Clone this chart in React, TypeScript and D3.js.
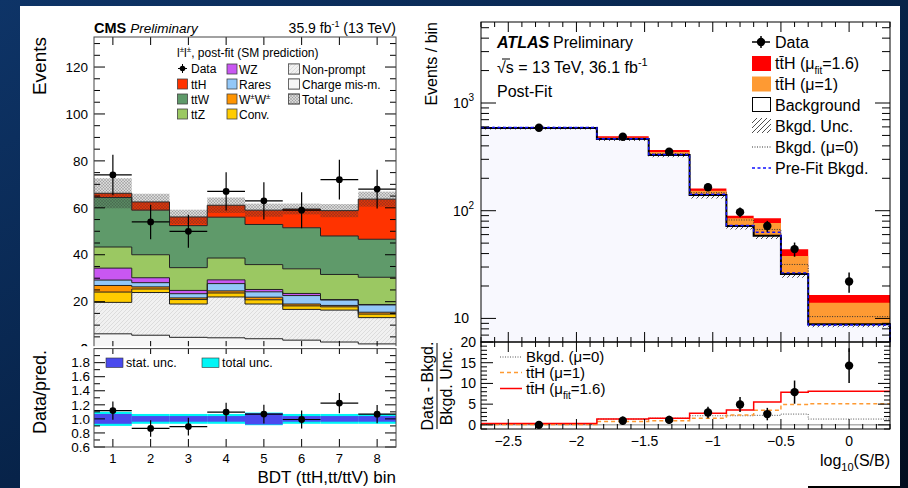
import React from 'react';
import * as d3 from 'd3';

const W = 908, H = 488;
const FONT = "'Liberation Sans', Arial, Helvetica, sans-serif";

// ---------------- CMS (left) data ----------------
const cmsBins = [1, 2, 3, 4, 5, 6, 7, 8];
const cmsKeys = ['chargeMis', 'nonPrompt', 'conv', 'wpwp', 'rares', 'wz', 'ttZ', 'ttW', 'ttH'];
const chargeMis = [6.3, 5.7, 4.8, 4.6, 4.2, 3.6, 2.8, 2.0];
const nonPrompt = [13.4, 18.2, 14.2, 17.4, 14.8, 13.1, 13.6, 11.2];
const conv = [4.4, 1.5, 1.9, 1.7, 1.8, 1.5, 1.4, 1.5];
const wpwp = [2.8, 0.9, 0.7, 0.9, 1.1, 0.8, 0.6, 0.8];
const rares = [2.3, 1.8, 1.8, 3.1, 2.3, 3.6, 2.3, 3.1];
const wz = [5.1, 2.1, 1.4, 1.6, 1.0, 0.9, 0.2, 0.2];
const ttZ = [9.0, 9.8, 9.7, 9.3, 10.6, 10.5, 10.7, 11.6];
const ttW = [21.1, 19.0, 17.9, 17.4, 17.1, 17.5, 16.4, 16.2];
const ttH = [1.8, 3.5, 3.7, 5.1, 6.1, 8.0, 10.8, 17.1];
const cmsTotalUnc = [6.4, 3.5, 3.1, 3.3, 2.8, 2.3, 2.8, 3.2];
const cmsData = [74, 54, 50, 67, 63, 59, 72, 68];
const cmsStatRel = [0.07, 0.04, 0.04, 0.04, 0.08, 0.04, 0.04, 0.04];
const cmsTotRel = [0.10, 0.07, 0.07, 0.07, 0.09, 0.07, 0.07, 0.07];
const cmsYTicks = [0, 20, 40, 60, 80, 100, 120];
const cmsRTicks = [0.6, 0.8, 1.0, 1.2, 1.4, 1.6, 1.8];

// ---------------- ATLAS (right) data ----------------
const atlasEdges = [-2.7, -1.85, -1.47, -1.17, -0.9, -0.7, -0.5, -0.3, 0.3];
const atlasData = [590, 486, 353, 165, 97, 72, 44, 22];
const atlasBkg = [585, 462, 329, 140, 72, 58.6, 25.8, 8.85];
const atlasTtH1 = [589, 476, 350, 153, 85, 77, 37.9, 14.0];
const atlasTtHfit = [592, 490, 366, 161, 90, 85, 43.8, 16.5];
const atlasBkgMu0 = [590, 470, 338, 147, 82, 67, 31.7, 10.4];
const atlasPrefit = [592, 466, 333, 142, 73, 63, 26.5, 8.7];
const atlasBkgUnc = [18, 18, 16, 10, 5, 4, 2, 0.55];
const atlasSig = [0.0, 1.0, 1.2, 3.0, 4.9, 2.6, 7.9, 14.3];
const atlasSigErr = [0.3, 1.0, 1.0, 1.4, 1.8, 1.5, 2.8, 4.2];
const atlasRedLine = [0.3, 1.4, 1.6, 2.8, 3.6, 5.5, 7.9, 8.1];
const atlasOrangeLine = [0.1, 0.8, 1.0, 1.6, 2.4, 3.5, 4.9, 5.1];
const atlasMu0Line = [0.1, 1.4, 1.6, 2.2, 2.2, 2.3, 2.6, 1.4];
const atlasXTicks = [-2.5, -2, -1.5, -1, -0.5, 0];
const atlasRTicks = [0, 5, 10, 15, 20];

const cmsColors: Record<string, string> = {
  chargeMis: '#f6f6f6', nonPrompt: 'url(#npHatch)', conv: '#ffcc00', wpwp: '#ff9400',
  rares: '#93c8f8', wz: '#c957f2', ttZ: '#9bc862', ttW: '#5f9a6a', ttH: '#ff3300',
};

function stepLine(edges: number[], vals: number[], x: any, y: any) {
  let d = '';
  vals.forEach((v, i) => {
    const yy = y(v);
    d += (i === 0 ? `M${x(edges[0])},${yy}` : `V${yy}`) + `H${x(edges[i + 1])}`;
  });
  return d;
}
function stepArea(edges: number[], lo: number[], hi: number[], x: any, y: any) {
  let d = stepLine(edges, hi, x, y);
  for (let i = lo.length - 1; i >= 0; i--) {
    d += `V${y(lo[i])}H${x(edges[i])}`;
  }
  return d + 'Z';
}

export default function App() {
  React.useEffect(() => { document.body.style.margin = '0'; }, []);

  // ---- CMS scales
  const cmsEdges = [0.5, 1.5, 2.5, 3.5, 4.5, 5.5, 6.5, 7.5, 8.5];
  const xC = d3.scaleLinear().domain([0.5, 8.5]).range([94, 396]);
  const yC = d3.scaleLinear().domain([0, 132.8]).range([348.6, 37]);
  const yCR = d3.scaleLinear().domain([0.6, 2.0]).range([447, 348.6]);
  const series: Record<string, number[]> = { chargeMis, nonPrompt, conv, wpwp, rares, wz, ttZ, ttW, ttH };
  const rows = cmsBins.map((_, i) => Object.fromEntries(cmsKeys.map(k => [k, series[k][i]])));
  const stacked = d3.stack<any>().keys(cmsKeys)(rows);
  const pred = cmsBins.map((_, i) => stacked[stacked.length - 1][i][1]);

  // ---- ATLAS scales
  const xA = d3.scaleLinear().domain([-2.7, 0.3]).range([481, 890]);
  const yA = d3.scaleLog().domain([6.04, 5650]).range([342, 22]);
  const yAR = d3.scaleLinear().domain([-1, 20]).range([429, 342]);
  const aCenters = atlasData.map((_, i) => (atlasEdges[i] + atlasEdges[i + 1]) / 2);
  const yMin = yA.domain()[0];

  // ---- ticks
  const cmsYMinor = d3.range(0, 133, 5).filter(v => v % 20 !== 0);
  const cmsRMinor = d3.range(0.6, 2.0, 0.1).map(v => +v.toFixed(2)).filter(v => !cmsRTicks.some(t => Math.abs(t - v) < 1e-6));
  const aXMinor = d3.range(-2.7, 0.31, 0.1).map(v => +v.toFixed(2)).filter(v => !atlasXTicks.some(t => Math.abs(t - v) < 1e-6));
  const aYMajor = [10, 100, 1000];
  const aYMinor: number[] = [];
  [1, 10, 100, 1000].forEach(dec => { for (let k = 2; k <= 9; k++) { const v = dec * k; if (v >= yMin && v <= 5650) aYMinor.push(v); } });
  const aRMinor = d3.range(-1, 21, 1).filter(v => v % 5 !== 0);

  const tk = (x1: number, y1: number, x2: number, y2: number, key: string, color = '#000') =>
    <line key={key} x1={x1} y1={y1} x2={x2} y2={y2} stroke={color} strokeWidth={1} />;

  return (
    <svg width={W} height={H} style={{ position: 'absolute', left: 0, top: 0, display: 'block' }} fontFamily={FONT}>
      <defs>
        <linearGradient id="bg" x1="0" y1="0" x2="1" y2="1">
          <stop offset="0" stopColor="#0e3467" />
          <stop offset="0.5" stopColor="#072349" />
          <stop offset="1" stopColor="#020d1f" />
        </linearGradient>
        <pattern id="npHatch" width="4" height="4" patternUnits="userSpaceOnUse">
          <rect width="4" height="4" fill="#f1f1f1" />
          <path d="M0,4L4,0M-1,1L1,-1M3,5L5,3" stroke="#d2d2d2" strokeWidth="0.7" />
        </pattern>
        <pattern id="uncHatch" width="3" height="3" patternUnits="userSpaceOnUse">
          <rect width="3" height="3" fill="rgba(60,60,60,0.2)" />
          <path d="M0,3L3,0M0,0L3,3" stroke="rgba(40,40,40,0.32)" strokeWidth="0.6" />
        </pattern>
        <pattern id="bkgHatch" width="5" height="5" patternUnits="userSpaceOnUse">
          <path d="M0,5L5,0M-1,1L1,-1M4,6L6,4" stroke="#222" strokeWidth="0.8" />
        </pattern>
      </defs>

      {/* slide background */}
      <rect x={0} y={0} width={W} height={H} fill="url(#bg)" />
      <rect x={20} y={6} width={880} height={H - 6} fill="#fff" />
      <rect x={808} y={486} width={92} height={2} fill="#000" />

      {/* ================= CMS ================= */}
      <text x={94} y={33} fontSize={14.5} fontWeight="bold">CMS <tspan fontWeight="normal" fontStyle="italic" fontSize={13.5}>Preliminary</tspan></text>
      <text x={396} y={33} fontSize={14} textAnchor="end">35.9 fb<tspan fontSize={9} dy={-6}>-1</tspan><tspan dy={6}> (13 TeV)</tspan></text>

      {/* stack fills */}
      {stacked.map((layer, li) => (
        <path key={'f' + li} d={stepArea(cmsEdges, layer.map(d => d[0]), layer.map(d => d[1]), xC, yC)} fill={cmsColors[cmsKeys[li]]} />
      ))}
      {stacked.map((layer, li) => (
        <path key={'l' + li} d={stepLine(cmsEdges, layer.map(d => d[1]), xC, yC)} fill="none" stroke="#222" strokeWidth={1} />
      ))}
      {/* total uncertainty */}
      {pred.map((p, i) => (
        <rect key={'u' + i} x={xC(cmsEdges[i])} width={xC(cmsEdges[i + 1]) - xC(cmsEdges[i])}
          y={yC(p + cmsTotalUnc[i])} height={yC(p - cmsTotalUnc[i]) - yC(p + cmsTotalUnc[i])} fill="url(#uncHatch)" />
      ))}
      {/* data */}
      {cmsData.map((v, i) => (
        <g key={'d' + i}>
          <line x1={xC(cmsEdges[i])} x2={xC(cmsEdges[i + 1])} y1={yC(v)} y2={yC(v)} stroke="#000" strokeWidth={1.2} />
          <line x1={xC(cmsBins[i])} x2={xC(cmsBins[i])} y1={yC(v + Math.sqrt(v))} y2={yC(v - Math.sqrt(v))} stroke="#000" strokeWidth={1.2} />
          <circle cx={xC(cmsBins[i])} cy={yC(v)} r={3.4} fill="#000" />
        </g>
      ))}
      {/* upper axis */}
      {cmsYTicks.map(t => (
        <g key={'yt' + t}>
          {tk(94, yC(t), 105, yC(t), 'a')}
          {tk(396, yC(t), 385, yC(t), 'b')}
          <text x={88} y={yC(t) + 4.7} fontSize={13.5} textAnchor="end">{t}</text>
        </g>
      ))}
      {cmsYMinor.map(t => <g key={'ym' + t}>{tk(94, yC(t), 100, yC(t), 'a')}{tk(396, yC(t), 390, yC(t), 'b')}</g>)}
      {cmsBins.map(b => <g key={'xt' + b}>{tk(xC(b), 37, xC(b), 45, 'a')}{tk(xC(b), 348.6, xC(b), 341, 'b')}</g>)}
      <rect x={94} y={37} width={302} height={311.6} fill="none" stroke="#444" strokeWidth={1} />

      {/* CMS legend */}
      <text x={177} y={57} fontSize={12}>l<tspan fontSize={8} dy={-5}>±</tspan><tspan dy={5}>l</tspan><tspan fontSize={8} dy={-5}>±</tspan><tspan dy={5}>, post-fit (SM prediction)</tspan></text>
      {/* col 1 */}
      <line x1={178} x2={187} y1={68.5} y2={68.5} stroke="#000" strokeWidth={1} />
      <line x1={182.5} x2={182.5} y1={64} y2={73} stroke="#000" strokeWidth={1} />
      <circle cx={182.5} cy={68.5} r={2.8} fill="#000" />
      <text x={191} y={73} fontSize={12}>Data</text>
      {[['ttH', 'ttH'], ['ttW', 'ttW'], ['ttZ', 'ttZ']].map(([k, lab], i) => (
        <g key={'lg1' + k}>
          <rect x={177.5} y={79 + i * 15} width={10} height={10} fill={cmsColors[k]} stroke="#444" strokeWidth={0.8} />
          <text x={191} y={88.5 + i * 15} fontSize={12}>{lab}</text>
        </g>
      ))}
      {/* col 2 */}
      {[['wz', 'WZ'], ['rares', 'Rares'], ['wpwp', 'W±W±'], ['conv', 'Conv.']].map(([k, lab], i) => (
        <g key={'lg2' + k}>
          <rect x={227} y={64 + i * 15} width={10} height={10} fill={cmsColors[k]} stroke="#444" strokeWidth={0.8} />
          {k === 'wpwp' ? (
            <text x={239} y={73.5 + i * 15} fontSize={12}>W<tspan fontSize={8} dy={-5}>±</tspan><tspan dy={5}>W</tspan><tspan fontSize={8} dy={-5}>±</tspan></text>
          ) : (
            <text x={239} y={73.5 + i * 15} fontSize={12}>{lab}</text>
          )}
        </g>
      ))}
      {/* col 3 */}
      {[['url(#npHatch)', 'Non-prompt'], ['#f6f6f6', 'Charge mis-m.'], ['url(#uncHatch)', 'Total unc.']].map(([f, lab], i) => (
        <g key={'lg3' + i}>
          <rect x={288.5} y={64 + i * 15} width={11} height={10} fill="#fff" stroke="#555" strokeWidth={0.8} />
          <rect x={288.5} y={64 + i * 15} width={11} height={10} fill={f} stroke="#555" strokeWidth={0.8} />
          <text x={302} y={73.5 + i * 15} fontSize={12}>{lab}</text>
        </g>
      ))}

      {/* "0" label partially hidden by ratio pad */}
      <text x={88} y={353.3} fontSize={13.5} textAnchor="end">0</text>
      <rect x={20} y={346.2} width={380} height={141.8} fill="#fff" />
      {/* ratio pad */}
      {pred.map((p, i) => (
        <rect key={'tr' + i} x={xC(cmsEdges[i])} width={xC(cmsEdges[i + 1]) - xC(cmsEdges[i])}
          y={yCR(1 + cmsTotRel[i])} height={yCR(1 - cmsTotRel[i]) - yCR(1 + cmsTotRel[i])} fill="#00f6f6" />
      ))}
      {pred.map((p, i) => (
        <rect key={'sr' + i} x={xC(cmsEdges[i])} width={xC(cmsEdges[i + 1]) - xC(cmsEdges[i])}
          y={yCR(1 + cmsStatRel[i])} height={yCR(1 - cmsStatRel[i]) - yCR(1 + cmsStatRel[i])} fill="#4a4aee" />
      ))}
      {cmsData.map((v, i) => {
        const r = v / pred[i], e = Math.sqrt(v) / pred[i];
        return (
          <g key={'rd' + i}>
            <line x1={xC(cmsEdges[i])} x2={xC(cmsEdges[i + 1])} y1={yCR(r)} y2={yCR(r)} stroke="#000" strokeWidth={1.2} />
            <line x1={xC(cmsBins[i])} x2={xC(cmsBins[i])} y1={yCR(r + e)} y2={yCR(r - e)} stroke="#000" strokeWidth={1.2} />
            <circle cx={xC(cmsBins[i])} cy={yCR(r)} r={3.4} fill="#000" />
          </g>
        );
      })}
      {cmsRTicks.map(t => (
        <g key={'rt' + t}>
          {tk(94, yCR(t), 105, yCR(t), 'a')}
          {tk(396, yCR(t), 385, yCR(t), 'b')}
          <text x={90} y={yCR(t) + 4.7} fontSize={13.5} textAnchor="end">{t.toFixed(1)}</text>
        </g>
      ))}
      {cmsRMinor.map(t => <g key={'rm' + t}>{tk(94, yCR(t), 100, yCR(t), 'a')}{tk(396, yCR(t), 390, yCR(t), 'b')}</g>)}
      {cmsBins.map(b => (
        <g key={'rx' + b}>
          {tk(xC(b), 348.6, xC(b), 354, 'a')}
          {tk(xC(b), 447, xC(b), 439, 'b')}
          <text x={xC(b)} y={462.5} fontSize={13} textAnchor="middle">{b}</text>
        </g>
      ))}
      <rect x={94} y={348.6} width={302} height={98.4} fill="none" stroke="#444" strokeWidth={1} />
      <rect x={106} y={358} width={17} height={9.5} fill="#4a4aee" stroke="#333" strokeWidth={0.6} />
      <text x={126} y={367} fontSize={12.5}>stat. unc.</text>
      <rect x={202} y={358} width={17} height={9.5} fill="#00f6f6" stroke="#333" strokeWidth={0.6} />
      <text x={222} y={367} fontSize={12.5}>total unc.</text>

      <text transform="translate(45.5,37) rotate(-90)" fontSize={19} textAnchor="end">Events</text>
      <text transform="translate(45.5,350) rotate(-90)" fontSize={18} textAnchor="end">Data/pred.</text>
      <text x={396} y={483} fontSize={17} textAnchor="end">BDT (ttH,tt/ttV) bin</text>

      {/* ================= ATLAS ================= */}
      <path d={stepArea(atlasEdges, atlasBkg.map(() => yMin), atlasBkg, xA, yA)} fill="#f8f8fe" />
      <path d={stepArea(atlasEdges, atlasBkg.map((b, i) => b - atlasBkgUnc[i]), atlasBkg.map((b, i) => b + atlasBkgUnc[i]), xA, yA)} fill="url(#bkgHatch)" />
      <path d={stepArea(atlasEdges, atlasBkg, atlasTtHfit, xA, yA)} fill="#ff0000" />
      <path d={stepArea(atlasEdges, atlasBkg, atlasTtH1, xA, yA)} fill="#fe9a33" />
      <path d={stepLine(atlasEdges, atlasBkgMu0, xA, yA)} fill="none" stroke="#333" strokeWidth={1} strokeDasharray="1,1.5" />
      <path d={stepLine(atlasEdges, atlasBkg, xA, yA) + `V${yA(yMin)}`} fill="none" stroke="#000" strokeWidth={2} />
      <path d={stepLine(atlasEdges, atlasPrefit, xA, yA) + `V${yA(yMin)}`} fill="none" stroke="#1010ff" strokeWidth={1.4} strokeDasharray="3,2.5" />
      {atlasData.map((v, i) => (
        <g key={'ad' + i}>
          <line x1={xA(aCenters[i])} x2={xA(aCenters[i])} y1={yA(v + Math.sqrt(v))} y2={yA(v - Math.sqrt(v))} stroke="#000" strokeWidth={1.5} />
          <circle cx={xA(aCenters[i])} cy={yA(v)} r={4.2} fill="#000" />
        </g>
      ))}
      {/* upper axes */}
      {aYMajor.map(t => (
        <g key={'ay' + t}>
          {tk(481, yA(t), 496, yA(t), 'a')}{tk(890, yA(t), 875, yA(t), 'b')}
        </g>
      ))}
      {aYMinor.map(t => <g key={'aym' + t}>{tk(481, yA(t), 489, yA(t), 'a')}{tk(890, yA(t), 882, yA(t), 'b')}</g>)}
      {atlasXTicks.map(t => <g key={'ax' + t}>{tk(xA(t), 22, xA(t), 32, 'a')}{tk(xA(t), 342, xA(t), 332, 'b')}</g>)}
      {aXMinor.map(t => <g key={'axm' + t}>{tk(xA(t), 22, xA(t), 27, 'a')}{tk(xA(t), 342, xA(t), 337, 'b')}</g>)}
      <rect x={481} y={22} width={409} height={320} fill="none" stroke="#000" strokeWidth={1} />
      <text x={469} y={yA(10) + 5} fontSize={14} textAnchor="end">10</text>
      <text x={453} y={yA(100) + 5} fontSize={14}>10<tspan fontSize={10} dy={-7}>2</tspan></text>
      <text x={453} y={yA(1000) + 5} fontSize={14}>10<tspan fontSize={10} dy={-7}>3</tspan></text>

      <text x={497} y={48} fontSize={16} fontWeight="bold" fontStyle="italic">ATLAS</text>
      <text x={553} y={48} fontSize={16}>Preliminary</text>
      <text x={497} y={73} fontSize={16}>√s = 13 TeV, 36.1 fb<tspan fontSize={11} dy={-7}>-1</tspan></text>
      <line x1={502} x2={510} y1={59} y2={59} stroke="#000" strokeWidth={1} />
      <text x={497} y={97} fontSize={16}>Post-Fit</text>

      {/* ATLAS legend */}
      <line x1={752} x2={770} y1={42} y2={42} stroke="#000" strokeWidth={1.5} />
      <line x1={761} x2={761} y1={36} y2={48} stroke="#000" strokeWidth={1.5} />
      <circle cx={761} cy={42} r={4.2} fill="#000" />
      <text x={775} y={47.5} fontSize={16}>Data</text>
      <rect x={752} y={56} width={19} height={15} fill="#ff0000" />
      <text x={775} y={68.5} fontSize={16}>tt̄H (μ<tspan fontSize={10} dy={5}>fit</tspan><tspan dy={-5}>=1.6)</tspan></text>
      <rect x={752} y={76.5} width={19} height={15} fill="#fe9a33" />
      <text x={775} y={89.5} fontSize={16}>tt̄H (μ=1)</text>
      <rect x={752.5} y={97.5} width={18} height={14} fill="#fff" stroke="#000" strokeWidth={1} />
      <text x={775} y={110.5} fontSize={16}>Background</text>
      <rect x={752} y={118} width={19} height={15} fill="url(#bkgHatch)" />
      <text x={775} y={131.5} fontSize={16}>Bkgd. Unc.</text>
      <line x1={752} x2={771} y1={147} y2={147} stroke="#333" strokeWidth={1} strokeDasharray="1,1.5" />
      <text x={775} y={152.5} fontSize={16}>Bkgd. (μ=0)</text>
      <line x1={752} x2={771} y1={168} y2={168} stroke="#1010ff" strokeWidth={1.4} strokeDasharray="3,2.5" />
      <text x={775} y={173.5} fontSize={16}>Pre-Fit Bkgd.</text>

      <text transform="translate(437,22) rotate(-90)" fontSize={16} textAnchor="end">Events / bin</text>

      {/* ATLAS lower pad */}
      <line x1={481} x2={890} y1={yAR(0)} y2={yAR(0)} stroke="#888" strokeWidth={1} />
      <path d={stepLine(atlasEdges, atlasMu0Line, xA, yAR)} fill="none" stroke="#555" strokeWidth={1} strokeDasharray="1,1.5" />
      <path d={stepLine(atlasEdges, atlasOrangeLine, xA, yAR)} fill="none" stroke="#fe9a33" strokeWidth={1.5} strokeDasharray="4,3" />
      <path d={stepLine(atlasEdges, atlasRedLine, xA, yAR)} fill="none" stroke="#ff0000" strokeWidth={1.5} />
      {atlasSig.map((v, i) => (
        <g key={'as' + i}>
          <line x1={xA(aCenters[i])} x2={xA(aCenters[i])} y1={yAR(v + atlasSigErr[i])} y2={yAR(v - atlasSigErr[i])} stroke="#000" strokeWidth={1.5} />
          <circle cx={xA(aCenters[i])} cy={yAR(v)} r={4.2} fill="#000" />
        </g>
      ))}
      {atlasRTicks.map(t => (
        <g key={'ar' + t}>
          {tk(481, yAR(t), 493, yAR(t), 'a')}{tk(890, yAR(t), 878, yAR(t), 'b')}
          <text x={476} y={yAR(t) + 5} fontSize={14} textAnchor="end">{t}</text>
        </g>
      ))}
      {aRMinor.map(t => <g key={'arm' + t}>{tk(481, yAR(t), 487, yAR(t), 'a')}{tk(890, yAR(t), 884, yAR(t), 'b')}</g>)}
      {atlasXTicks.map(t => (
        <g key={'arx' + t}>
          {tk(xA(t), 342, xA(t), 352, 'a')}{tk(xA(t), 429, xA(t), 419, 'b')}
          <text x={xA(t)} y={446} fontSize={14} textAnchor="middle">{t === 0 ? '0' : '−' + Math.abs(t)}</text>
        </g>
      ))}
      {aXMinor.map(t => <g key={'arxm' + t}>{tk(xA(t), 342, xA(t), 347, 'a')}{tk(xA(t), 429, xA(t), 424, 'b')}</g>)}
      <rect x={481} y={342} width={409} height={87} fill="none" stroke="#000" strokeWidth={1} />

      <line x1={500} x2={522} y1={357} y2={357} stroke="#555" strokeWidth={1} strokeDasharray="1,1.5" />
      <text x={526} y={362} fontSize={15}>Bkgd. (μ=0)</text>
      <line x1={500} x2={522} y1={372.5} y2={372.5} stroke="#fe9a33" strokeWidth={1.5} strokeDasharray="4,3" />
      <text x={526} y={378} fontSize={15}>tt̄H (μ=1)</text>
      <line x1={500} x2={522} y1={388.5} y2={388.5} stroke="#ff0000" strokeWidth={1.5} />
      <text x={526} y={394} fontSize={15}>tt̄H (μ<tspan fontSize={10} dy={5}>fit</tspan><tspan dy={-5}>=1.6)</tspan></text>

      <text transform="translate(433,386) rotate(-90)" fontSize={16} textAnchor="middle">Data - Bkgd.</text>
      <line x1={437} x2={437} y1={343} y2={429} stroke="#000" strokeWidth={1} />
      <text transform="translate(452,386) rotate(-90)" fontSize={16} textAnchor="middle">Bkgd. Unc.</text>

      <text x={890} y={466} fontSize={16} textAnchor="end">log<tspan fontSize={11} dy={5}>10</tspan><tspan dy={-5}>(S/B)</tspan></text>
    </svg>
  );
}
